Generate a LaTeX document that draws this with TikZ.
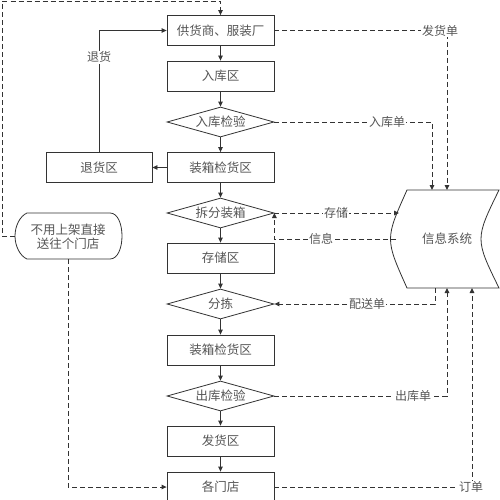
\documentclass[tikz,border=0pt]{standalone}
\usepackage{fontspec}
\newfontfamily\cjk{Noto Sans CJK SC}
\usetikzlibrary{shapes.geometric,arrows.meta}
\definecolor{ln}{HTML}{333333}
\definecolor{tx}{HTML}{555555}
\begin{document}
\begin{tikzpicture}[x=1pt,y=-1pt,
  every node/.style={font=\cjk\fontsize{12.5pt}{15pt}\selectfont, text=tx},
  box/.style={rectangle, draw=ln, line width=0.8pt, minimum width=107pt, minimum height=30pt, inner sep=0pt},
  dia/.style={diamond, draw=ln, line width=0.8pt, minimum width=107pt, minimum height=30pt, aspect=3.57, inner sep=0pt},
  sl/.style={draw=ln, line width=0.8pt, -{Triangle[length=5pt,width=4.5pt]}},
  dl/.style={draw=ln, line width=1pt, dash pattern=on 5pt off 3pt, -{Triangle[length=5pt,width=4.5pt]}},
  dn/.style={draw=ln, line width=1pt, dash pattern=on 5pt off 3pt},
  lab/.style={fill=white, inner sep=1pt, font=\cjk\fontsize{12pt}{14pt}\selectfont}]
\useasboundingbox (0,0) rectangle (500,500);
\fill[white] (0,0) rectangle (500,500);
% main column
\node[box] (n1) at (220.5,30.5) {供货商、服装厂};
\node[box] (n2) at (220.5,76) {入库区};
\node[dia] (n3) at (220.5,122) {入库检验};
\node[box] (n4) at (220.5,167.5) {装箱检货区};
\node[dia] (n5) at (220.5,213) {拆分装箱};
\node[box] (n6) at (220.5,258) {存储区};
\node[dia] (n7) at (220.5,304) {分拣};
\node[box] (n8) at (220.5,350) {装箱检货区};
\node[dia] (n9) at (220.5,396) {出库检验};
\node[box] (n10) at (220.5,441) {发货区};
\node[box] (n11) at (220.5,487) {各门店};
\node[box, minimum width=106pt] (ret) at (99,167.5) {退货区};
% information system
\draw[ln, line width=0.8pt, fill=white] (407,190) -- (499,190) .. controls (475,239) .. (499,288) -- (407,288) .. controls (385,239) .. (407,190) -- cycle;
\node (is) at (447,239) {信息系统};
% display shape
\draw[ln, line width=0.8pt, fill=white] (27,213) -- (110,213) .. controls (126,213) and (126,259) .. (110,259) -- (27,259) .. controls (20,256) and (15,246) .. (15,236) .. controls (15,226) and (20,216) .. (27,213) -- cycle;
\node[align=center, font=\cjk\fontsize{12.5pt}{14pt}\selectfont] (ov) at (68,236.5) {不用上架直接\\送往个门店};
% coordinates
\coordinate (ovL) at (15,236);
\coordinate (ovB) at (68,259);
\coordinate (cTL) at (2,1.5);
\coordinate (isT1) at (432,190);
\coordinate (isT2) at (447,190);
\coordinate (isL1) at (399,213);
\coordinate (isL2) at (396,239);
\coordinate (isB1) at (435,288);
\coordinate (isB2) at (447,288);
\coordinate (isB3) at (472,288);
% solid flow
\draw[sl] (n1) -- (n2);
\draw[sl] (n2) -- (n3);
\draw[sl] (n3) -- (n4);
\draw[sl] (n4) -- (n5);
\draw[sl] (n5) -- (n6);
\draw[sl] (n6) -- (n7);
\draw[sl] (n7) -- (n8);
\draw[sl] (n8) -- (n9);
\draw[sl] (n9) -- (n10);
\draw[sl] (n10) -- (n11);
\draw[sl] (n4.west) -- (ret.east);
\draw[sl] (ret.north) |- node[lab, pos=0.39] {退货} (n1.west);
% dashed
\draw[dl] (ovL) -| (cTL) -| (n1.north);
\draw[dl] (ovB) |- (n11.west);
\draw[dl] (n1.east) -| (isT2);
\node[lab] (l1) at (440,30.5) {发货单};
\draw[dl] (n3.east) -| (isT1);
\node[lab] (l2) at (387,122) {入库单};
\draw[dl] (n5.east) -- (isL1);
\node[lab] (l3) at (336,213) {存储};
\draw[dl] (isL2) -| (n5.east);
\node[lab] (l4) at (321,239) {信息};
\draw[dl] (isB1) |- (n7.east);
\node[lab] (l5) at (367,304) {配送单};
\draw[dl] (n9.east) -| (isB2);
\node[lab] (l6) at (413,396) {出库单};
\draw[dl] (n11.east) -| (isB3);
\node[lab] (l7) at (471,487) {订单};
\end{tikzpicture}
\end{document}
